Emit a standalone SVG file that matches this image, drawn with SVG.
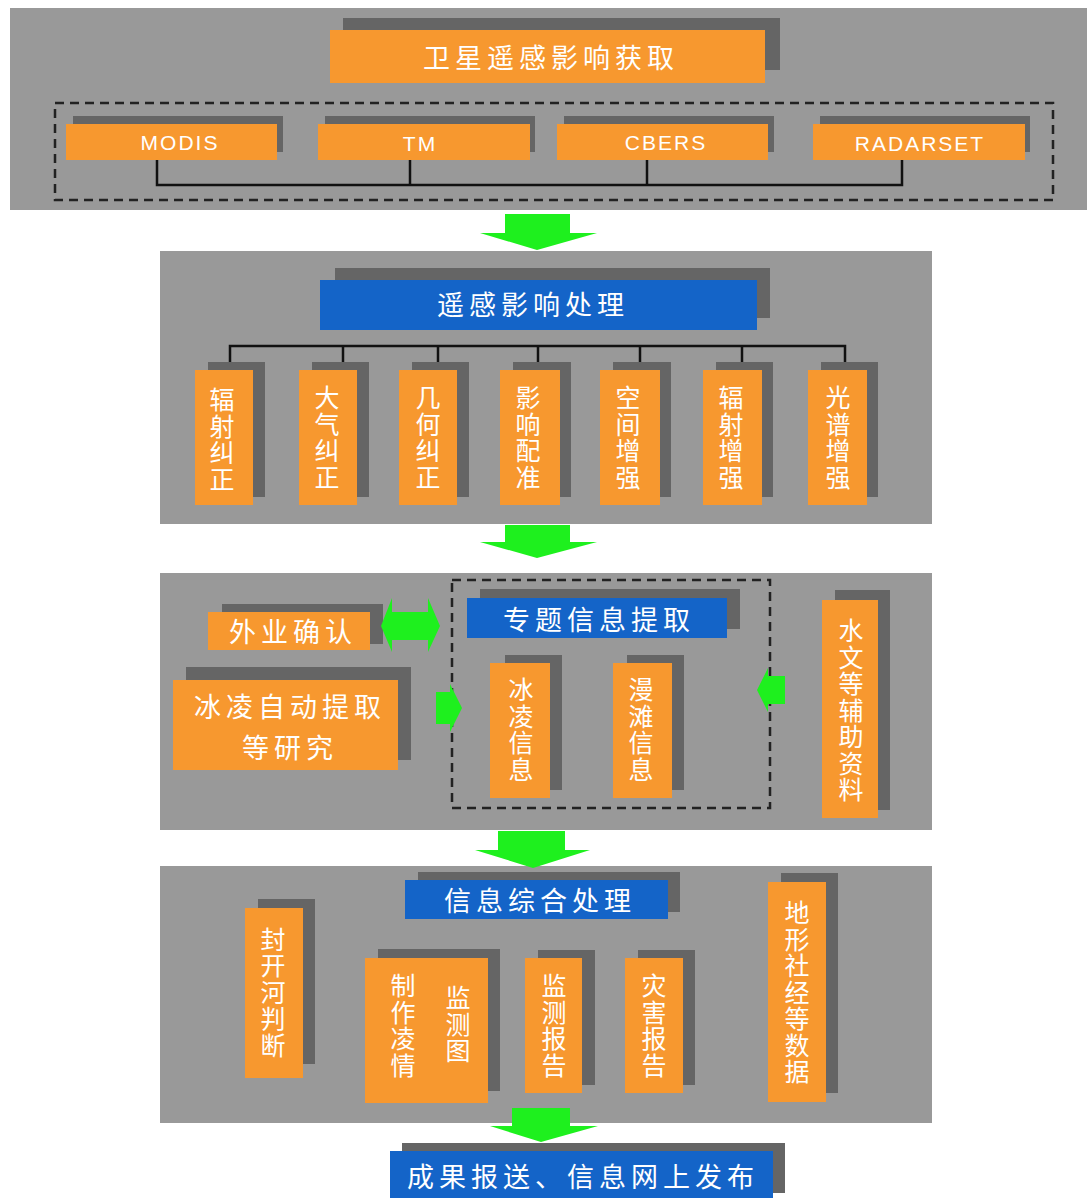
<svg xmlns="http://www.w3.org/2000/svg" width="1088" height="1198" viewBox="0 0 1088 1198">
<style>
.panel{fill:#999999}
.sh{fill:#656565}
.or{fill:#F7982F}
.bl{fill:#1464C8}
.t{font-family:"Noto Sans CJK SC","Noto Sans",sans-serif;fill:#ffffff;text-anchor:middle;dominant-baseline:central;font-size:27px;letter-spacing:5px}
.v{font-family:"Noto Sans CJK SC","Noto Sans",sans-serif;fill:#ffffff;text-anchor:middle;writing-mode:vertical-rl;font-size:25px;letter-spacing:1.5px}
.en{font-family:"Liberation Sans",Arial,sans-serif;fill:#ffffff;text-anchor:middle;dominant-baseline:central;font-size:21px;letter-spacing:2px}
.ln{stroke:#111;stroke-width:2.5;fill:none}
.dash{stroke:#222;stroke-width:2.5;fill:none;stroke-dasharray:9 6}
.ga{fill:#1EF01E}
</style>
<rect width="1088" height="1198" fill="#ffffff"/>
<!-- panels -->
<rect class="panel" x="10" y="8" width="1077" height="202"/>
<rect class="panel" x="160" y="251" width="772" height="273"/>
<rect class="panel" x="160" y="573" width="772" height="257"/>
<rect class="panel" x="160" y="866" width="772" height="257"/>
<rect class="dash" x="55" y="103" width="998" height="97"/>
<rect class="dash" x="452" y="580" width="318" height="228"/>

<g id="n-acquire">
<rect class="sh" x="343" y="18" width="437" height="52"/>
<rect class="or" x="330" y="30" width="435" height="53"/>
<text class="t" x="551" y="56">卫星遥感影响获取</text>
</g>
<g id="n-modis"><rect class="sh" x="73" y="116" width="210" height="36"/><rect class="or" x="66" y="124" width="211" height="36"/><text class="en" x="180" y="142">MODIS</text></g>
<g id="n-tm"><rect class="sh" x="325" y="116" width="210" height="36"/><rect class="or" x="318" y="124" width="212" height="36"/><text class="en" x="420" y="143">TM</text></g>
<g id="n-cbers"><rect class="sh" x="564" y="116" width="210" height="36"/><rect class="or" x="557" y="124" width="211" height="36"/><text class="en" x="666" y="142">CBERS</text></g>
<g id="n-radarset"><rect class="sh" x="820" y="116" width="210" height="36"/><rect class="or" x="813" y="124" width="212" height="36"/><text class="en" x="920" y="143">RADARSET</text></g>

<g id="n-process">
<rect class="sh" x="335" y="268" width="435" height="50"/>
<rect class="bl" x="320" y="280" width="437" height="50"/>
<text class="t" x="533" y="303">遥感影响处理</text>
</g>
<g id="n-p1"><rect class="sh" x="208" y="362" width="57" height="135"/><rect class="or" x="195" y="370" width="58" height="135"/><text class="v" x="222" y="440">辐射纠正</text></g>
<g id="n-p2"><rect class="sh" x="312" y="362" width="57" height="135"/><rect class="or" x="299" y="370" width="58" height="135"/><text class="v" x="327" y="438">大气纠正</text></g>
<g id="n-p3"><rect class="sh" x="412" y="362" width="57" height="135"/><rect class="or" x="399" y="370" width="58" height="135"/><text class="v" x="428" y="438">几何纠正</text></g>
<g id="n-p4"><rect class="sh" x="513" y="362" width="58" height="135"/><rect class="or" x="500" y="370" width="60" height="135"/><text class="v" x="528" y="438">影响配准</text></g>
<g id="n-p5"><rect class="sh" x="613" y="362" width="58" height="135"/><rect class="or" x="600" y="370" width="60" height="135"/><text class="v" x="628" y="438">空间增强</text></g>
<g id="n-p6"><rect class="sh" x="716" y="362" width="57" height="135"/><rect class="or" x="703" y="370" width="59" height="135"/><text class="v" x="731" y="438">辐射增强</text></g>
<g id="n-p7"><rect class="sh" x="821" y="362" width="57" height="135"/><rect class="or" x="808" y="370" width="59" height="135"/><text class="v" x="838" y="438">光谱增强</text></g>

<g id="n-thematic">
<rect class="sh" x="480" y="589" width="260" height="40"/>
<rect class="bl" x="467" y="598" width="260" height="40"/>
<text class="t" x="599" y="618">专题信息提取</text>
</g>
<g id="n-field"><rect class="sh" x="222" y="604" width="161" height="40"/><rect class="or" x="208" y="612" width="162" height="38"/><text class="t" x="293" y="630">外业确认</text></g>
<g id="n-research"><rect class="sh" x="186" y="667" width="225" height="93"/><rect class="or" x="173" y="680" width="225" height="90"/><text class="t"><tspan x="290" y="705">冰凌自动提取</tspan><tspan x="290" y="746">等研究</tspan></text></g>
<g id="n-ice"><rect class="sh" x="505" y="655" width="57" height="135"/><rect class="or" x="490" y="663" width="60" height="135"/><text class="v" x="521" y="730">冰凌信息</text></g>
<g id="n-flood"><rect class="sh" x="627" y="655" width="57" height="135"/><rect class="or" x="613" y="663" width="59" height="135"/><text class="v" x="641" y="730">漫滩信息</text></g>
<g id="n-hydro"><rect class="sh" x="835" y="590" width="55" height="220"/><rect class="or" x="822" y="600" width="56" height="218"/><text class="v" x="851" y="711">水文等辅助资料</text></g>

<g id="n-integrate">
<rect class="sh" x="418" y="872" width="262" height="40"/>
<rect class="bl" x="405" y="880" width="263" height="39"/>
<text class="t" x="540" y="899">信息综合处理</text>
</g>
<g id="n-freeze"><rect class="sh" x="258" y="899" width="57" height="165"/><rect class="or" x="245" y="908" width="58" height="170"/><text class="v" x="273" y="993">封开河判断</text></g>
<g id="n-map"><rect class="sh" x="378" y="949" width="122" height="142"/><rect class="or" x="365" y="958" width="123" height="145"/><text class="v" x="403" y="1026">制作凌情</text><text class="v" x="458" y="1025">监测图</text></g>
<g id="n-report"><rect class="sh" x="538" y="950" width="57" height="135"/><rect class="or" x="525" y="958" width="57" height="135"/><text class="v" x="554" y="1026">监测报告</text></g>
<g id="n-disaster"><rect class="sh" x="638" y="950" width="57" height="135"/><rect class="or" x="625" y="958" width="58" height="135"/><text class="v" x="654" y="1026">灾害报告</text></g>
<g id="n-terrain"><rect class="sh" x="781" y="873" width="57" height="220"/><rect class="or" x="768" y="882" width="58" height="220"/><text class="v" x="797" y="993">地形社经等数据</text></g>

<g id="n-publish">
<rect class="sh" x="402" y="1143" width="383" height="50"/>
<rect class="bl" x="390" y="1151" width="383" height="47"/>
<text class="t" x="583" y="1175">成果报送、信息网上发布</text>
</g>

<g id="connectors">
<polyline class="ln" points="157,160 157,185 902,185 902,160"/>
<line class="ln" x1="410" y1="160" x2="410" y2="185"/>
<line class="ln" x1="647" y1="160" x2="647" y2="185"/>
<polyline class="ln" points="230,362 230,346 845,346 845,362"/>
<line class="ln" x1="343" y1="346" x2="343" y2="362"/>
<line class="ln" x1="438" y1="346" x2="438" y2="362"/>
<line class="ln" x1="538" y1="346" x2="538" y2="362"/>
<line class="ln" x1="640" y1="346" x2="640" y2="362"/>
<line class="ln" x1="742" y1="346" x2="742" y2="362"/>
<polygon class="ga" points="505,214 570,214 570,233 597,233 537,250 480,233 505,233"/>
<polygon class="ga" points="505,525 570,525 570,542 597,542 537,558 480,542 505,542"/>
<polygon class="ga" points="498,831 565,831 565,850 590,850 533,868 475,850 498,850"/>
<polygon class="ga" points="512,1108 570,1108 570,1126 598,1126 541,1142 490,1126 512,1126"/>
<polygon class="ga" points="381,626 392,598 392,612 428,612 428,598 440,626 428,652 428,640 392,640 392,652"/>
<polygon class="ga" points="436,692 450,692 450,684 462,708 450,732 450,724 436,724"/>
<polygon class="ga" points="757,690 768,668 768,676 785,676 785,704 768,704 768,712"/>
</g>
</svg>
